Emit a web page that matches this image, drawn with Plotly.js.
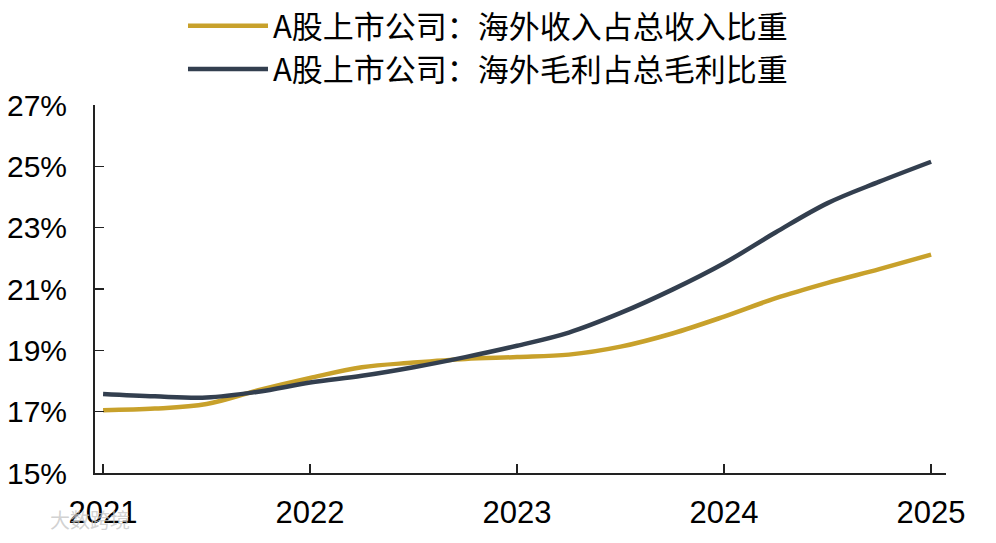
<!DOCTYPE html>
<html>
<head>
<meta charset="utf-8">
<script src="https://cdn.plot.ly/plotly-3.0.1.min.js"></script>
<style>
  html, body { margin: 0; padding: 0; background: #ffffff; }
  #chart { width: 996px; height: 543px; }
</style>
</head>
<body>
<div id="chart"></div>
<script>
// ---- data ----
const periods = [2021, 2021.25, 2021.5, 2021.75, 2022, 2022.25, 2022.5, 2022.75,
                 2023, 2023.25, 2023.5, 2023.75, 2024, 2024.25, 2024.5, 2024.75, 2025];
const revenueShare = [17.05, 17.10, 17.25, 17.70, 18.10, 18.45, 18.60, 18.72,
                      18.78, 18.86, 19.12, 19.55, 20.10, 20.70, 21.20, 21.65, 22.12];
const grossProfitShare = [17.58, 17.50, 17.46, 17.65, 17.95, 18.17, 18.45, 18.78,
                          19.15, 19.58, 20.22, 20.98, 21.84, 22.85, 23.80, 24.50, 25.15];
const seriesNames = ['A股上市公司：海外收入占总收入比重', 'A股上市公司：海外毛利占总毛利比重'];
const xTickVals = [2021, 2022, 2023, 2024, 2025];
const xTickText = ['2021', '2022', '2023', '2024', '2025'];
const yTickVals = [15, 17, 19, 21, 23, 25, 27];
const yTickText = ['15%', '17%', '19%', '21%', '23%', '25%', '27%'];
const watermarkText = '大数跨境';

const latin = 'Arial, "Liberation Sans", sans-serif';
const cjk = '"Noto Sans CJK SC", "Liberation Sans", sans-serif';

const traces = [
  {
    x: periods, y: revenueShare, name: seriesNames[0],
    type: 'scatter', mode: 'lines',
    line: { color: '#C8A12B', width: 4.5, shape: 'spline', smoothing: 1 }
  },
  {
    x: periods, y: grossProfitShare, name: seriesNames[1],
    type: 'scatter', mode: 'lines',
    line: { color: '#333F4F', width: 4.5, shape: 'spline', smoothing: 1 }
  }
];

const layout = {
  width: 996, height: 543,
  paper_bgcolor: '#ffffff', plot_bgcolor: '#ffffff',
  margin: { l: 95, r: 50, t: 105, b: 70, autoexpand: false },
  showlegend: true,
  hovermode: false,
  legend: {
    xref: 'paper', yref: 'paper',
    x: 0.1034, xanchor: 'left',
    y: 1.288, yanchor: 'top',
    bgcolor: 'rgba(0,0,0,0)',
    font: { family: cjk, size: 31, color: '#000000' },
    itemwidth: 80,
    tracegroupgap: 0,
    traceorder: 'normal'
  },
  xaxis: {
    range: [2020.961, 2025.072],
    tickmode: 'array', tickvals: xTickVals, ticktext: xTickText,
    ticks: 'inside', ticklen: 9, tickwidth: 1.5, tickcolor: '#222222',
    showline: true, linecolor: '#222222', linewidth: 2,
    showgrid: false, zeroline: false,
    tickfont: { family: latin, size: 31, color: '#000000' },
    ticklabelstandoff: 11,
    fixedrange: true
  },
  yaxis: {
    range: [15, 27],
    tickmode: 'array', tickvals: yTickVals, ticktext: yTickText,
    ticks: 'inside', ticklen: 9, tickwidth: 1.5, tickcolor: '#222222',
    showline: true, linecolor: '#222222', linewidth: 2,
    showgrid: false, zeroline: false,
    tickfont: { family: latin, size: 30, color: '#000000' },
    ticklabelstandoff: 20,
    fixedrange: true
  },
  annotations: [
    {
      xref: 'paper', yref: 'paper', x: -0.0552, y: -0.125,
      xanchor: 'left', yanchor: 'middle',
      text: watermarkText, showarrow: false,
      font: { family: cjk, size: 20, color: 'rgba(195,195,195,0.75)' }
    }
  ]
};

Plotly.newPlot('chart', traces, layout, { displayModeBar: false, staticPlot: true });
</script>
</body>
</html>
